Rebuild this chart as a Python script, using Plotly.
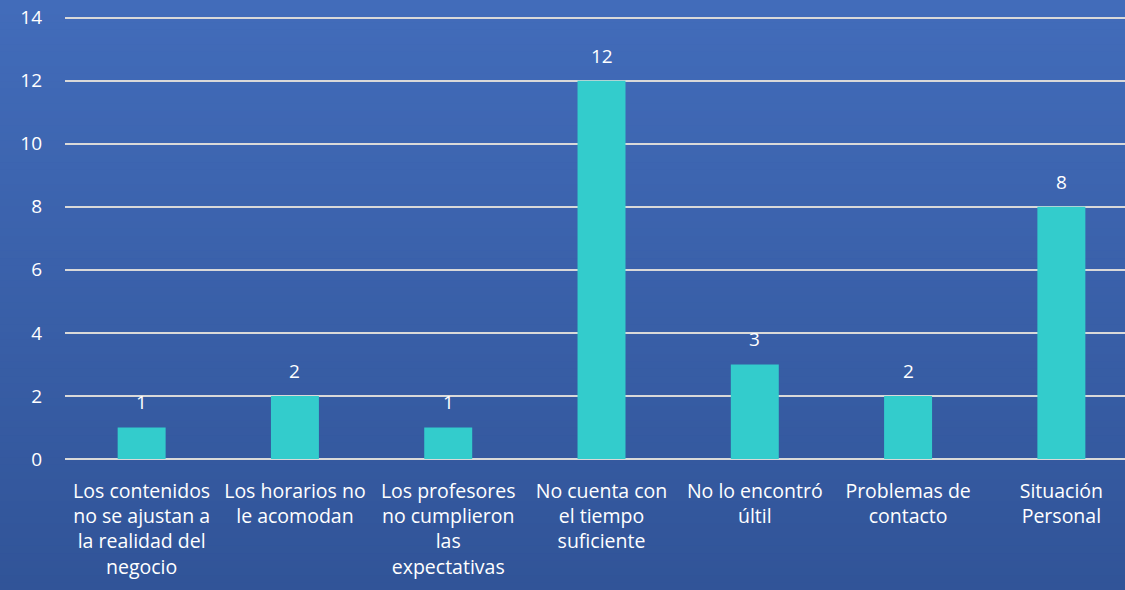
import plotly.graph_objects as go

categories = [
    "Los contenidos<br>no se ajustan a<br>la realidad del<br>negocio",
    "Los horarios no<br>le acomodan",
    "Los profesores<br>no cumplieron<br>las<br>expectativas",
    "No cuenta con<br>el tiempo<br>suficiente",
    "No lo encontró<br>últil",
    "Problemas de<br>contacto",
    "Situación<br>Personal",
]
values = [1, 2, 1, 12, 3, 2, 8]
y_ticks = [0, 2, 4, 6, 8, 10, 12, 14]

W, H = 1125, 590
ml, mr, mt, mb = 65, 0, 16, 131
pw, ph = W - ml - mr, H - mt - mb

FONT = "Open Sans"
FS = 19.5

fig = go.Figure()
fig.add_trace(go.Bar(
    x=categories, y=values,
    marker=dict(color="#33CCCC", line=dict(width=0)),
    width=0.313,
    hoverinfo="x+y",
))

# gradient background via bands
top_c = (0x42, 0x6C, 0xBA)
bot_c = (0x31, 0x54, 0x98)
n = 80
y_top = 1 + mt / ph
y_bot = -mb / ph
x0 = -ml / pw
x1 = 1 + mr / pw + 0.01
shapes = []
for i in range(n):
    t = i / (n - 1)
    c = tuple(round(top_c[k] + (bot_c[k] - top_c[k]) * t) for k in range(3))
    ya = y_top - (y_top - y_bot) * i / n
    yb = y_top - (y_top - y_bot) * (i + 1) / n
    shapes.append(dict(type="rect", xref="paper", yref="paper", x0=x0, x1=x1,
                       y0=yb - 0.002, y1=ya, fillcolor="rgb(%d,%d,%d)" % c,
                       line=dict(width=0), layer="below"))

annotations = []
for c, v in zip(categories, values):
    annotations.append(dict(x=c, y=v, text=str(v), showarrow=False,
                            yanchor="bottom", yshift=10,
                            font=dict(family=FONT, size=19, color="white")))

fig.update_layout(
    width=W, height=H,
    margin=dict(l=ml, r=mr, t=mt, b=mb),
    paper_bgcolor="#3A5EA8",
    plot_bgcolor="rgba(0,0,0,0)",
    shapes=shapes,
    annotations=annotations,
    showlegend=False,
    font=dict(family=FONT, size=FS, color="white"),
    xaxis=dict(showgrid=False, showline=False, zeroline=False,
               range=[-0.5, 6.415],
               tickfont=dict(family=FONT, size=FS, color="white"),
               ticklabelstandoff=18),
    yaxis=dict(range=[0, 14.05], tickvals=y_ticks, showgrid=True,
               gridcolor="#D9D9D9", gridwidth=2, zeroline=True,
               zerolinecolor="#D9D9D9", zerolinewidth=2,
               showline=False,
               tickfont=dict(family=FONT, size=19, color="white"),
               ticklabelstandoff=22),
)

fig.write_html("out.html", config={"displayModeBar": False},
               post_script="document.body.style.margin='0';document.body.style.padding='0';")
